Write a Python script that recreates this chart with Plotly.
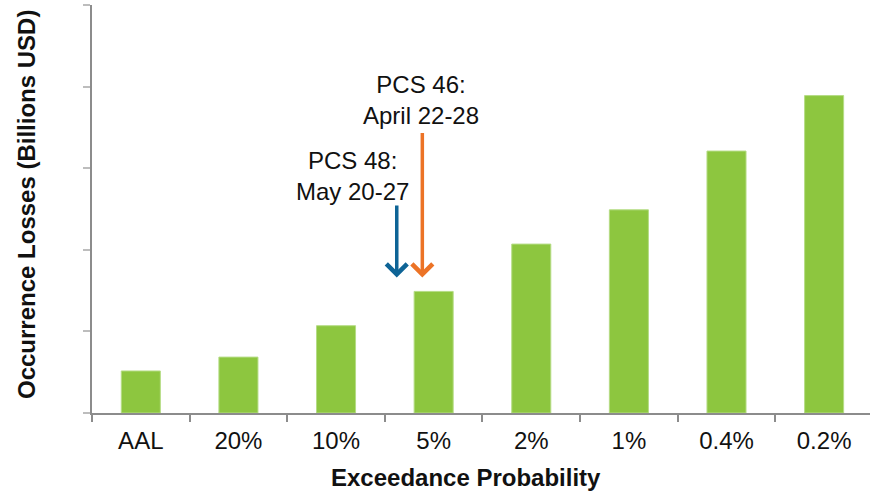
import plotly.graph_objects as go

categories = ["AAL", "20%", "10%", "5%", "2%", "1%", "0.4%", "0.2%"]
losses = [0.515, 0.685, 1.07, 1.49, 2.07, 2.49, 3.21, 3.89]

# event markers: (label, x position in category units, arrow tail, arrow tip, colour)
event_labels = ["PCS 48:<br>May 20-27", "PCS 46:<br>April 22-28"]
event_arrow_x = [2.622, 2.884]
event_arrow_tail = [2.56, 3.45]
event_arrow_tip = [1.66, 1.66]
event_text_x = [2.164, 2.871]
event_text_y = [2.90, 3.84]
event_colors = ["#0E6496", "#EC7326"]

FONT = "Liberation Sans, Arial"

fig = go.Figure()
fig.add_trace(go.Bar(
    x=categories, y=losses,
    marker=dict(color="#8DC63F", line=dict(color="#B5DC85", width=1)),
    width=0.4,
))

for lab, ax_, tail, tip, tx, ty, col in zip(event_labels, event_arrow_x, event_arrow_tail,
                                           event_arrow_tip, event_text_x, event_text_y, event_colors):
    fig.add_annotation(
        x=ax_, y=tip, ax=ax_, ay=tail, xref="x", yref="y", axref="x", ayref="y",
        showarrow=True, arrowhead=4, arrowsize=1.15, arrowwidth=3.5, arrowcolor=col, text="",
    )
    fig.add_annotation(
        x=tx, y=ty, xref="x", yref="y", text=lab, showarrow=False,
        font=dict(family=FONT, size=24, color="#111111"),
        align="center",
    )

fig.add_annotation(
    xref="paper", yref="paper", x=(466 - 92) / 778, y=(413 - 478) / 408,
    xanchor="center", yanchor="middle",
    text="<b>Exceedance Probability</b>",
    showarrow=False, font=dict(family=FONT, size=24, color="#111111"),
)
fig.add_annotation(
    xref="paper", yref="paper", x=(26 - 92) / 778, y=(413 - 205) / 408,
    xanchor="center", yanchor="middle",
    text="<b>Occurrence Losses (Billions USD)</b>", textangle=-90, showarrow=False,
    font=dict(family=FONT, size=24, color="#111111"),
)

fig.update_layout(
    width=870, height=496,
    margin=dict(l=92, r=0, t=5, b=83),
    paper_bgcolor="white", plot_bgcolor="white",
    showlegend=False,
    font=dict(family=FONT, size=24, color="#111111"),
    xaxis=dict(
        type="category", range=[-0.5, 7.47], showline=True, linecolor="#8C8C8C", linewidth=1.5,
        ticks="outside", tickson="boundaries", ticklen=7, tickcolor="#8C8C8C", tickwidth=1.5,
        showgrid=False, tickfont=dict(size=24, color="#111111"), ticklabelstandoff=5,
    ),
    yaxis=dict(
        range=[0, 5], dtick=1, showline=True, linecolor="#8C8C8C", linewidth=1.5,
        ticks="outside", ticklen=7, tickcolor="#BDBDBD", tickwidth=1.5,
        showticklabels=False, showgrid=False, zeroline=False,
    ),
)

fig.write_html("out.html", config={"displayModeBar": False},
               post_script="document.body.style.margin='0';")
